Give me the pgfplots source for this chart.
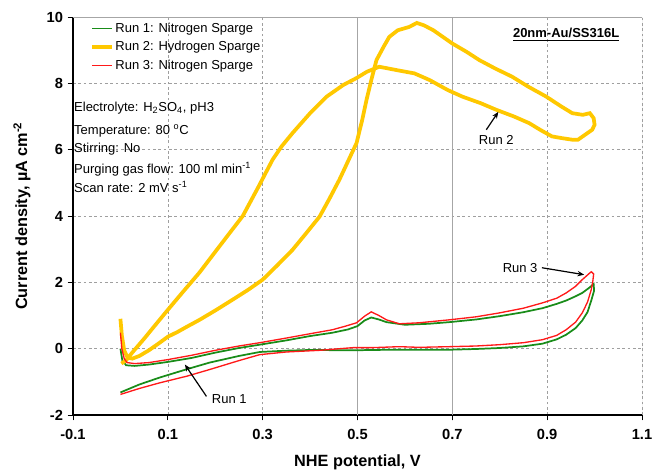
\documentclass[border=0pt]{standalone}
\usepackage{fontspec}
\setmainfont{Liberation Sans}
\usepackage{pgfplots}
\pgfplotsset{compat=1.18}
\usetikzlibrary{arrows.meta}
\definecolor{runone}{RGB}{25,140,25}
\definecolor{runtwo}{RGB}{255,200,0}
\definecolor{runthree}{RGB}{255,25,25}
\begin{document}
\begin{tikzpicture}
\begin{axis}[
  width=426.75pt, height=298.5pt, scale only axis,
  xmin=-0.1, xmax=1.1, ymin=-2, ymax=10,
  axis x line*=bottom, axis y line*=left,
  axis line style={line width=0.9pt, black},
  xtick={-0.1,0.1,0.3,0.5,0.7,0.9,1.1},
  xticklabels={-0.1,0.1,0.3,0.5,0.7,0.9,1.1},
  ytick={-2,0,2,4,6,8,10},
  extra x ticks={0.5,0.7}, extra x tick labels={},
  extra x tick style={major grid style={solid, gray!70, line width=0.6pt}},
  grid=major,
  major grid style={gray!75, dash pattern=on 2pt off 2pt, line width=0.5pt},
  tick align=outside, major tick length=4pt,
  tick style={black, line width=0.7pt},
  tick label style={font=\bfseries\fontsize{11}{13}\selectfont},
  xticklabel style={yshift=-3.5pt},
  /pgf/number format/assume math mode=true,
  xlabel={NHE potential, V},
  ylabel={Current density, µA cm\textsuperscript{-2}},
  label style={font=\bfseries\fontsize{12.2}{14}\selectfont},
  xlabel style={at={(axis description cs:0.5,-0.12)}, anchor=center},
  ylabel style={at={(axis description cs:-0.0896,0.5)}, anchor=center},
  legend style={draw=none, fill=none, at={(axis description cs:0.03,0.993)}, anchor=north west,
    font=\fontsize{9.75}{11}\selectfont, row sep=1.4pt, inner sep=0pt,
    nodes={inner sep=1pt, text height=8pt, text depth=2.5pt}},
  legend cell align=left,
  legend image code/.code={\draw[#1] (0pt,0pt) -- (15pt,0pt);},
]
\addplot[runone, line width=1.3pt] coordinates {
(0.000,0.00) (0.004,-0.35) (0.012,-0.50) (0.03,-0.52) (0.06,-0.48) (0.10,-0.40)
(0.15,-0.28) (0.20,-0.12) (0.25,0.02) (0.294,0.12) (0.35,0.25) (0.40,0.38)
(0.447,0.48) (0.48,0.58) (0.50,0.68) (0.515,0.85) (0.529,0.94) (0.545,0.88)
(0.561,0.80) (0.60,0.72) (0.65,0.75) (0.694,0.80) (0.75,0.88) (0.80,0.98)
(0.85,1.10) (0.89,1.22) (0.92,1.35) (0.94,1.45) (0.96,1.58) (0.974,1.68)
(0.99,1.85) (0.998,1.95) (0.999,1.75) (0.993,1.45) (0.985,1.10) (0.974,0.85)
(0.96,0.62) (0.94,0.42) (0.92,0.28) (0.89,0.15) (0.85,0.07) (0.80,0.02)
(0.75,-0.01) (0.70,-0.03) (0.65,-0.03) (0.588,-0.03) (0.53,-0.04) (0.49,-0.05)
(0.40,-0.04) (0.35,-0.06) (0.294,-0.10) (0.25,-0.22) (0.188,-0.42) (0.14,-0.62)
(0.083,-0.87) (0.04,-1.08) (0.0,-1.32)
};
\addlegendentry{Run 1: Nitrogen Sparge}
\addplot[runtwo, line width=2.8pt] coordinates {
(0.000,0.90) (0.003,0.40) (0.008,-0.05) (0.015,-0.27) (0.025,-0.30) (0.04,-0.22)
(0.06,-0.05) (0.08,0.15) (0.10,0.36) (0.12,0.50) (0.14,0.66) (0.167,0.87)
(0.20,1.15) (0.237,1.48) (0.27,1.78) (0.30,2.08) (0.33,2.50) (0.363,2.98)
(0.39,3.45) (0.42,3.98) (0.44,4.50) (0.462,5.10) (0.48,5.65) (0.498,6.20)
(0.51,6.90) (0.519,7.50) (0.53,8.15) (0.54,8.70) (0.555,9.10) (0.567,9.40)
(0.585,9.60) (0.609,9.70) (0.625,9.82) (0.64,9.75) (0.66,9.60) (0.68,9.40)
(0.70,9.20) (0.73,8.95) (0.757,8.70) (0.79,8.45) (0.826,8.20) (0.86,7.90)
(0.898,7.60) (0.93,7.30) (0.953,7.10) (0.975,7.05) (0.99,7.10) (0.998,6.95)
(1.0,6.75) (0.995,6.60) (0.98,6.45) (0.965,6.30) (0.953,6.30) (0.93,6.35)
(0.91,6.40) (0.885,6.60) (0.862,6.80) (0.83,7.00) (0.793,7.20) (0.76,7.40)
(0.721,7.60) (0.69,7.80) (0.652,8.10) (0.62,8.30) (0.582,8.40) (0.546,8.50)
(0.52,8.35) (0.498,8.16) (0.47,7.95) (0.435,7.60) (0.40,7.10) (0.363,6.50)
(0.34,6.10) (0.321,5.70) (0.29,4.85) (0.258,4.00) (0.23,3.48) (0.20,2.92)
(0.167,2.30) (0.13,1.68) (0.10,1.17) (0.07,0.65) (0.05,0.30) (0.026,-0.10)
(0.012,-0.35) (0.002,-0.45)
};
\addlegendentry{Run 2: Hydrogen Sparge}
\addplot[runthree, line width=1pt] coordinates {
(0.000,0.48) (0.003,0.0) (0.008,-0.30) (0.014,-0.42) (0.03,-0.45) (0.06,-0.42)
(0.10,-0.33) (0.15,-0.20) (0.20,-0.05) (0.25,0.08) (0.294,0.18) (0.35,0.32)
(0.40,0.45) (0.447,0.57) (0.475,0.68) (0.498,0.78) (0.515,0.98) (0.529,1.11)
(0.545,1.00) (0.561,0.87) (0.588,0.75) (0.63,0.78) (0.694,0.87) (0.75,0.96)
(0.80,1.08) (0.85,1.22) (0.89,1.38) (0.92,1.52) (0.94,1.68) (0.96,1.88)
(0.974,2.08) (0.985,2.22) (0.993,2.32) (0.998,2.25) (0.996,2.00) (0.993,1.78)
(0.985,1.40) (0.974,1.08) (0.96,0.80) (0.94,0.57) (0.92,0.40) (0.89,0.27)
(0.85,0.18) (0.80,0.12) (0.75,0.08) (0.694,0.06) (0.63,0.04) (0.588,0.06)
(0.53,0.03) (0.49,0.03) (0.42,-0.05) (0.35,-0.10) (0.294,-0.18) (0.25,-0.36)
(0.188,-0.63) (0.14,-0.83) (0.083,-1.03) (0.04,-1.20) (0.0,-1.38)
};
\addlegendentry{Run 3: Nitrogen Sparge}
\draw[gray!70, line width=0.7pt] (rel axis cs:0,1) -- (rel axis cs:1,1) -- (rel axis cs:1,0);
\begin{scope}[every node/.style={font=\fontsize{9.75}{11}\selectfont, inner sep=0pt, anchor=base west}]
\node at (axis cs:-0.098,7.16) {Electrolyte: H\textsubscript{2}SO\textsubscript{4}, pH3};
\node at (axis cs:-0.098,6.47) {Temperature: 80 \textsuperscript{o}C};
\node at (axis cs:-0.098,5.92) {Stirring: No};
\node at (axis cs:-0.098,5.29) {Purging gas flow: 100 ml min\textsuperscript{-1}};
\node at (axis cs:-0.098,4.72) {Scan rate: 2 mV s\textsuperscript{-1}};
\end{scope}
\node[font=\fontsize{9.75}{11}\selectfont] at (axis cs:0.2295,-1.51) {Run 1};
\node[font=\fontsize{9.75}{11}\selectfont] at (axis cs:0.7926,6.30) {Run 2};
\node[font=\fontsize{9.75}{11}\selectfont] at (axis cs:0.843,2.44) {Run 3};
\node[font=\bfseries\fontsize{9.75}{11}\selectfont] at (axis cs:0.94,9.47) {\underline{20nm-Au/SS316L}};
\draw[-{Stealth[length=5pt,width=4pt]}, line width=0.9pt] (axis cs:0.1815,-1.44) -- (axis cs:0.136,-0.48);
\draw[-{Stealth[length=5pt,width=4pt]}, line width=0.9pt] (axis cs:0.7716,6.60) -- (axis cs:0.797,7.14);
\draw[-{Stealth[length=5pt,width=4pt]}, line width=0.9pt] (axis cs:0.889,2.44) -- (axis cs:0.978,2.23);
\end{axis}
\path (current axis.south west) ++(-54.75pt,-43.5pt) coordinate (bl);
\path (current axis.north east) ++(8.25pt,12.75pt) coordinate (tr);
\pgfresetboundingbox
\path (bl) rectangle (tr);
\end{tikzpicture}
\end{document}
